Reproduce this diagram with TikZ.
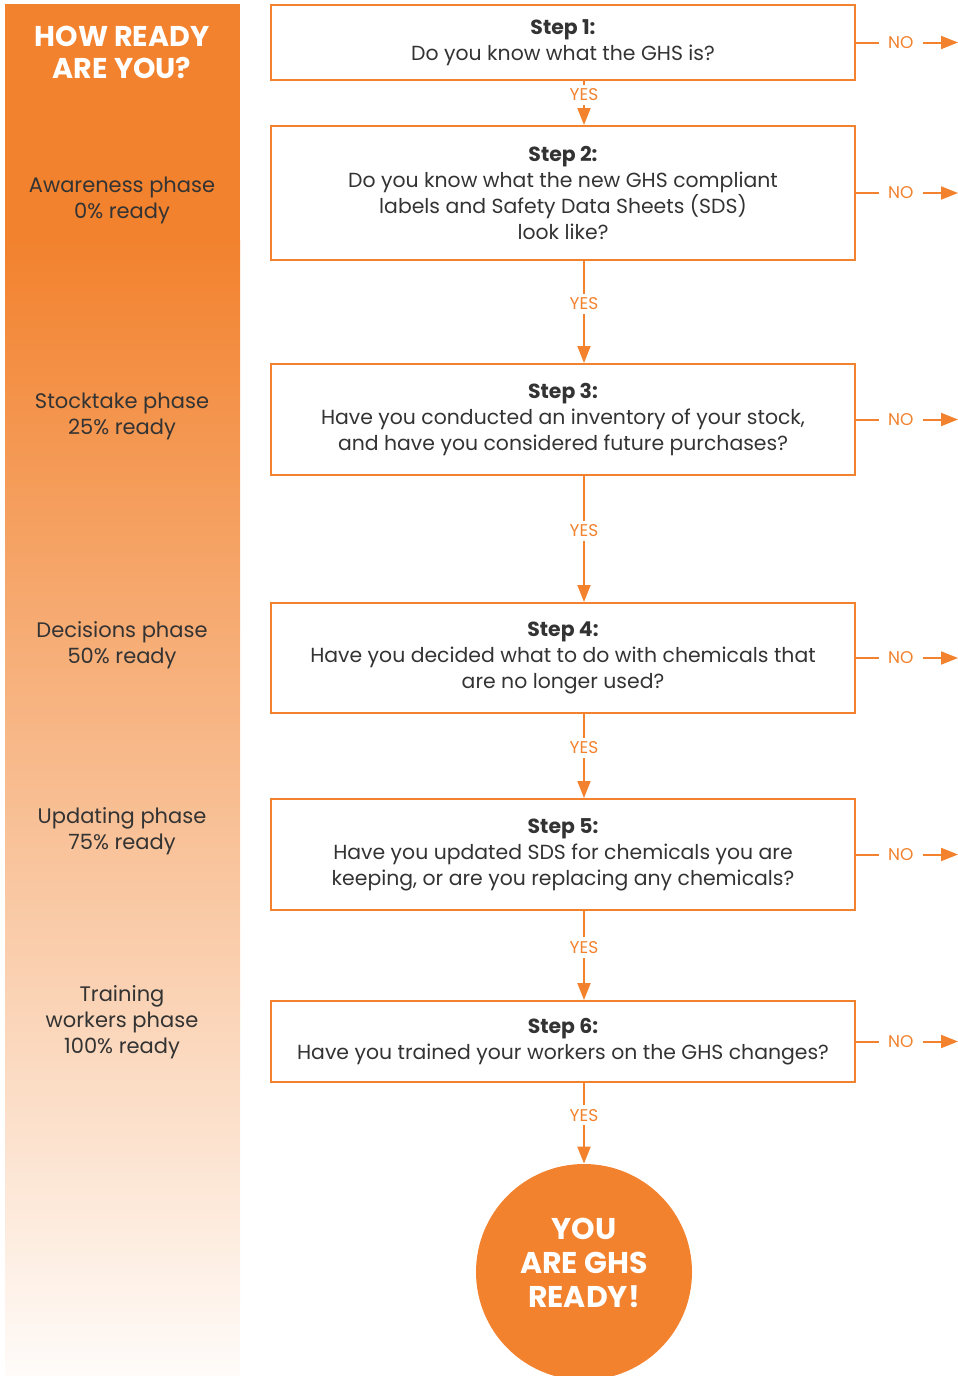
\documentclass[tikz,border=0pt]{standalone}
\usepackage{fontspec}
\setmainfont{Poppins}
\definecolor{ghsorange}{RGB}{242, 130, 46}
\definecolor{ghstext}{RGB}{51, 51, 51}
\usetikzlibrary{arrows.meta, positioning}

\begin{document}
\begin{tikzpicture}[
    x=0.5pt, y=-0.5pt,
    stepbox/.style={draw=ghsorange, line width=1pt, minimum width=292pt, align=center, font=\fontsize{10.2}{13}\selectfont, text=ghstext},
    phase/.style={align=center, font=\fontsize{10.5}{13}\selectfont, text=ghstext},
    arrow/.style={-{Triangle[length=8.5pt, width=6.5pt]}, line width=1pt, ghsorange},
    answer/.style={font=\fontsize{8.5}{9}\selectfont, text=ghsorange, fill=white, inner xsep=4.5pt, inner ysep=2pt},
    yes/.style={answer, inner xsep=1pt, yshift=4pt},
  ]
  \useasboundingbox (0,0) rectangle (958,1376);

  % Readiness bar
  \fill[ghsorange] (5,4) rectangle (240,242);
  \shade[top color=ghsorange, middle color=ghsorange!60, bottom color=ghsorange!3] (5,240) rectangle (240,1376);
  \node[font=\bfseries\fontsize{14.3}{16}\selectfont, text=white, align=center] (title) at (122,52) {HOW READY\\ARE YOU?};
  \node[phase] (awareness) at (122,200) {Awareness phase\\0\% ready};
  \node[phase] (stocktake) at (122,416) {Stocktake phase\\25\% ready};
  \node[phase] (decisions) at (122,645) {Decisions phase\\50\% ready};
  \node[phase] (updating) at (122,831) {Updating phase\\75\% ready};
  \node[phase] (training) at (122,1022) {Training\\workers phase\\100\% ready};

  % Steps
  \node[stepbox, minimum height=37.5pt] (step1) at (563,42.5) {\textbf{Step 1:}\\Do you know what the GHS is?};
  \node[stepbox, minimum height=67pt, below=22pt of step1] (step2) {\textbf{Step 2:}\\Do you know what the new GHS compliant\\labels and Safety Data Sheets (SDS)\\look like?};
  \node[stepbox, minimum height=55.5pt, below=51pt of step2] (step3) {\textbf{Step 3:}\\Have you conducted an inventory of your stock,\\and have you considered future purchases?};
  \node[stepbox, minimum height=55pt, below=63pt of step3] (step4) {\textbf{Step 4:}\\Have you decided what to do with chemicals that\\are no longer used?};
  \node[stepbox, minimum height=55.5pt, below=42pt of step4] (step5) {\textbf{Step 5:}\\Have you updated SDS for chemicals you are\\keeping, or are you replacing any chemicals?};
  \node[stepbox, minimum height=40.5pt, below=44.5pt of step5] (step6) {\textbf{Step 6:}\\Have you trained your workers on the GHS changes?};

  % Goal
  \node[circle, fill=ghsorange, minimum size=108pt, inner sep=0pt,
        label={[text=white, align=center, yshift=4.5pt, font=\bfseries\fontsize{15}{17}\selectfont]center:YOU\\ARE GHS\\READY!}] (ready) at (584,1272) {};

  % Arrows
  \draw[arrow] (step1.south -| ready) -- node[yes] {YES} (step2.north -| ready);
  \draw[arrow] (step2.south -| ready) -- node[yes] {YES} (step3.north -| ready);
  \draw[arrow] (step3.south -| ready) -- node[yes] {YES} (step4.north -| ready);
  \draw[arrow] (step4.south -| ready) -- node[yes] {YES} (step5.north -| ready);
  \draw[arrow] (step5.south -| ready) -- node[yes] {YES} (step6.north -| ready);
  \draw[arrow] (step6.south -| ready) -- node[yes] {YES} (ready);

  \foreach \i in {1,...,6} {
    \coordinate (no\i) at ([xshift=51pt]step\i.east);
    \draw[arrow] (step\i.east) -- node[answer, pos=0.44] {NO} (no\i);
  }

\end{tikzpicture}
\end{document}
